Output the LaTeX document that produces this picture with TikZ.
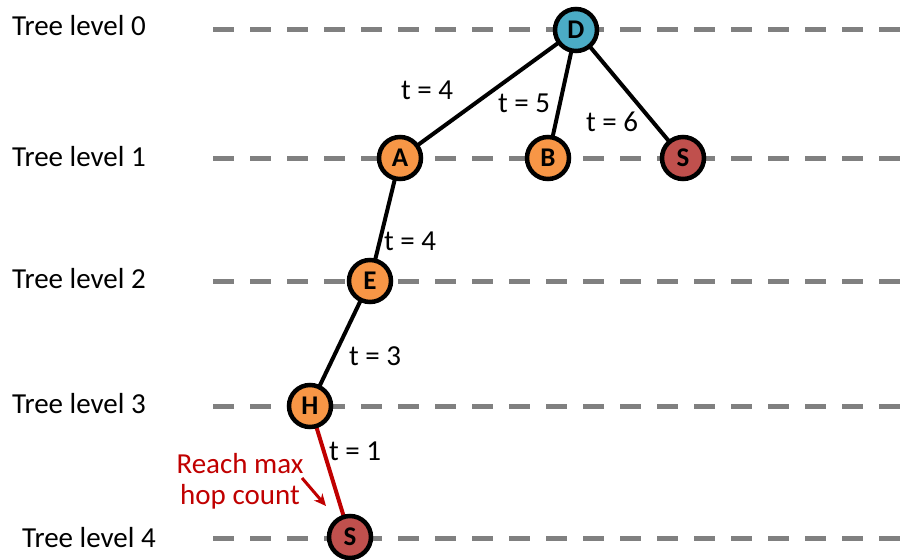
\documentclass[tikz,border=0pt]{standalone}
\usepackage{fontspec}
\setmainfont{Carlito}
\usetikzlibrary{arrows.meta,backgrounds}
\definecolor{dgray}{HTML}{808080}
\definecolor{nblue}{HTML}{4BACC6}
\definecolor{norange}{HTML}{F79646}
\definecolor{nred}{HTML}{C0504D}
\definecolor{tred}{HTML}{C00000}
\tikzset{
  lvl/.style={draw=dgray,line width=5pt,dash pattern=on 21pt off 16pt},
  lvltext/.style={anchor=west,inner sep=0pt,font=\fontsize{29}{34}\selectfont},
  tnode/.style={circle,draw=black,line width=4.5pt,minimum size=42pt,inner sep=0pt,font=\fontsize{27}{32}\selectfont\bfseries},
  edge/.style={draw=black,line width=4pt},
  redge/.style={draw=tred,line width=4pt},
  elabel/.style={inner sep=0pt,font=\fontsize{29}{34}\selectfont},
}
\begin{document}
\begin{tikzpicture}[x=1pt,y=-1pt]
\useasboundingbox (0,0) rectangle (906,560);
% level labels
\node[lvltext] (l0) at (12,26) {Tree level 0};
\node[lvltext] (l1) at (12,157) {Tree level 1};
\node[lvltext] (l2) at (12,279) {Tree level 2};
\node[lvltext] (l3) at (12,404) {Tree level 3};
\node[lvltext] (l4) at (22,538) {Tree level 4};
% dashed lines
\coordinate (a0) at (213,29); \coordinate (b0) at (906,29);
\coordinate (a1) at (213,158); \coordinate (b1) at (906,158);
\coordinate (a2) at (213,281); \coordinate (b2) at (906,281);
\coordinate (a3) at (213,406); \coordinate (b3) at (906,406);
\coordinate (a4) at (213,538); \coordinate (b4) at (906,538);
\draw[lvl] (a0) -- (b0);
\draw[lvl] (a1) -- (b1);
\draw[lvl] (a2) -- (b2);
\draw[lvl] (a3) -- (b3);
\draw[lvl] (a4) -- (b4);
% nodes
\node[tnode,fill=nblue] (D) at (576,30) {D};
\node[tnode,fill=norange] (A) at (400,158) {A};
\node[tnode,fill=norange] (B) at (548,158) {B};
\node[tnode,fill=nred] (S1) at (683,158) {S};
\node[tnode,fill=norange] (E) at (370,281) {E};
\node[tnode,fill=norange] (H) at (310,406) {H};
\node[tnode,fill=nred] (S2) at (350,537) {S};
% edges
\begin{scope}[on background layer]
\draw[edge] (D.center) -- (A.center);
\draw[edge] (D.center) -- (B.center);
\draw[edge] (D.center) -- (S1.center);
\draw[edge] (A.center) -- (E.center);
\draw[edge] (E.center) -- (H.center);
\draw[redge] (H.center) -- (S2.center);
\end{scope}
% edge labels
\node[elabel] (t1) at (427,90) {t = 4};
\node[elabel] (t2) at (524,103) {t = 5};
\node[elabel] (t3) at (612,122) {t = 6};
\node[elabel] (t4) at (410,241) {t = 4};
\node[elabel] (t5) at (375,356) {t = 3};
\node[elabel] (t6) at (355,451) {t = 1};
% annotation
\node[elabel,text=tred,align=center] (note) at (240,481) {Reach max\\[-3pt]hop count};
\coordinate (n1) at (302,478);
\coordinate (n2) at (326,506);
\draw[draw=tred,line width=3pt,-{Stealth[length=12pt,width=11pt]}] (n1) -- (n2);
\end{tikzpicture}
\end{document}
